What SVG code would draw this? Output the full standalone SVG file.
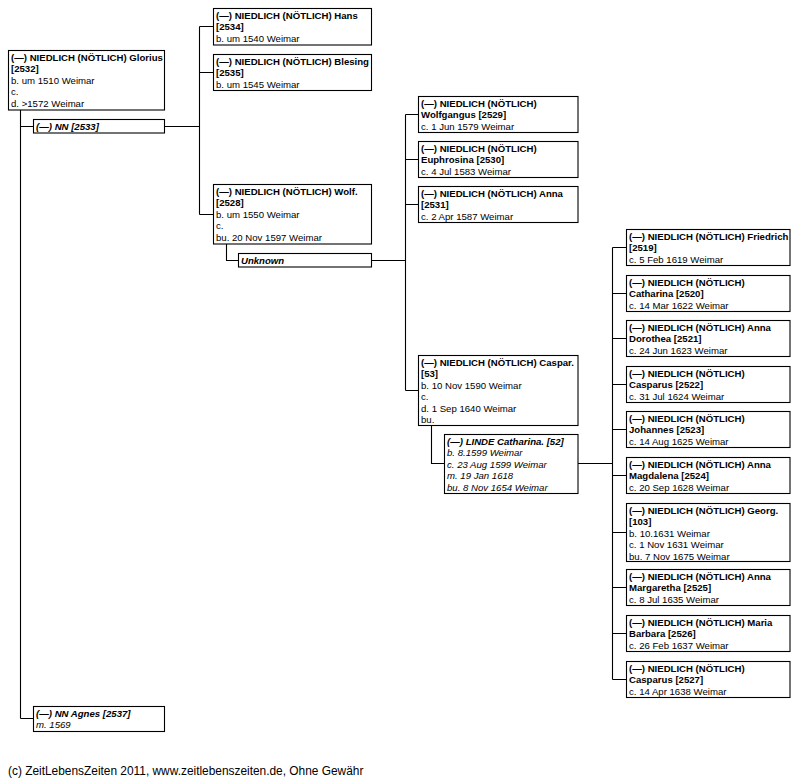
<svg xmlns="http://www.w3.org/2000/svg" width="801" height="782" viewBox="0 0 801 782">
<style>
text{font-family:"Liberation Sans",Arial,sans-serif;font-size:9.6px;fill:#000}
.b{font-weight:bold}
.i{font-style:italic}
.bi{font-weight:bold;font-style:italic}
rect{fill:#fff;stroke:#000;stroke-width:1.1}
.c{fill:none;stroke:#000;stroke-width:1.1}
.ft{font-size:11.9px}
</style>
<rect x="0" y="0" width="801" height="782" style="stroke:none;fill:#fff"/>
<g id="connectors">
<path class="c" d="M20.5 110V718.5M20.5 126.5H33M20.5 718.5H33M164 126.5H199.5M199.5 26.5V214.5M199.5 26.5H213M199.5 72.5H213M199.5 214.5H213M226.5 244V260.5H238M371 260.5H405.5M405.5 114.5V390.5M405.5 114.5H418M405.5 159.5H418M405.5 204.5H418M405.5 390.5H418M431.5 425V463.5H444M578 463.5H612.5M612.5 247.5V679.5M612.5 247.5H626M612.5 293.5H626M612.5 338.5H626M612.5 384.5H626M612.5 429.5H626M612.5 475.5H626M612.5 532.5H626M612.5 587.5H626M612.5 633.5H626M612.5 679.5H626"/>
</g>
<g id="n2532"><rect x="8.5" y="50.5" width="156" height="59.5"/>
<text x="11" y="61" class="b">(—) NIEDLICH (NÖTLICH) Glorius</text>
<text x="11" y="72.4" class="b">[2532]</text>
<text x="11" y="83.8">b. um 1510 Weimar</text>
<text x="11" y="95.2">c.</text>
<text x="11" y="106.6">d. &gt;1572 Weimar</text></g>
<g id="n2533"><rect x="33.5" y="119.5" width="131" height="13.5"/>
<text x="36" y="130" class="bi">(—) NN [2533]</text></g>
<g id="n2534"><rect x="213.5" y="8.5" width="158" height="36.5"/>
<text x="216" y="19" class="b">(—) NIEDLICH (NÖTLICH) Hans</text>
<text x="216" y="30.4" class="b">[2534]</text>
<text x="216" y="41.8">b. um 1540 Weimar</text></g>
<g id="n2535"><rect x="213.5" y="54.5" width="158" height="36"/>
<text x="216" y="65" class="b">(—) NIEDLICH (NÖTLICH) Blesing</text>
<text x="216" y="76.4" class="b">[2535]</text>
<text x="216" y="87.8">b. um 1545 Weimar</text></g>
<g id="n2528"><rect x="213.5" y="184.5" width="158" height="59.5"/>
<text x="216" y="195" class="b">(—) NIEDLICH (NÖTLICH) Wolf.</text>
<text x="216" y="206.4" class="b">[2528]</text>
<text x="216" y="217.8">b. um 1550 Weimar</text>
<text x="216" y="229.2">c.</text>
<text x="216" y="240.6">bu. 20 Nov 1597 Weimar</text></g>
<g id="unknown"><rect x="238.5" y="253.5" width="133" height="13.5"/>
<text x="241" y="264" class="bi">Unknown</text></g>
<g id="n2529"><rect x="418.5" y="96.5" width="159.5" height="36"/>
<text x="421" y="107" class="b">(—) NIEDLICH (NÖTLICH)</text>
<text x="421" y="118.4" class="b">Wolfgangus [2529]</text>
<text x="421" y="129.8">c. 1 Jun 1579 Weimar</text></g>
<g id="n2530"><rect x="418.5" y="141.5" width="159.5" height="36"/>
<text x="421" y="152" class="b">(—) NIEDLICH (NÖTLICH)</text>
<text x="421" y="163.4" class="b">Euphrosina [2530]</text>
<text x="421" y="174.8">c. 4 Jul 1583 Weimar</text></g>
<g id="n2531"><rect x="418.5" y="186.5" width="159.5" height="36"/>
<text x="421" y="197" class="b">(—) NIEDLICH (NÖTLICH) Anna</text>
<text x="421" y="208.4" class="b">[2531]</text>
<text x="421" y="219.8">c. 2 Apr 1587 Weimar</text></g>
<g id="n53"><rect x="418.5" y="355.5" width="159.5" height="70"/>
<text x="421" y="366" class="b">(—) NIEDLICH (NÖTLICH) Caspar.</text>
<text x="421" y="377.4" class="b">[53]</text>
<text x="421" y="388.8">b. 10 Nov 1590 Weimar</text>
<text x="421" y="400.2">c.</text>
<text x="421" y="411.6">d. 1 Sep 1640 Weimar</text>
<text x="421" y="423">bu.</text></g>
<g id="n52"><rect x="444.5" y="434.5" width="133.5" height="59"/>
<text x="447" y="445" class="bi">(—) LINDE Catharina. [52]</text>
<text x="447" y="456.4" class="i">b. 8.1599 Weimar</text>
<text x="447" y="467.8" class="i">c. 23 Aug 1599 Weimar</text>
<text x="447" y="479.2" class="i">m. 19 Jan 1618</text>
<text x="447" y="490.6" class="i">bu. 8 Nov 1654 Weimar</text></g>
<g id="n2519"><rect x="626.5" y="229.5" width="163.5" height="36"/>
<text x="629" y="240" class="b">(—) NIEDLICH (NÖTLICH) Friedrich</text>
<text x="629" y="251.4" class="b">[2519]</text>
<text x="629" y="262.8">c. 5 Feb 1619 Weimar</text></g>
<g id="n2520"><rect x="626.5" y="275.5" width="163.5" height="36"/>
<text x="629" y="286" class="b">(—) NIEDLICH (NÖTLICH)</text>
<text x="629" y="297.4" class="b">Catharina [2520]</text>
<text x="629" y="308.8">c. 14 Mar 1622 Weimar</text></g>
<g id="n2521"><rect x="626.5" y="320.5" width="163.5" height="36"/>
<text x="629" y="331" class="b">(—) NIEDLICH (NÖTLICH) Anna</text>
<text x="629" y="342.4" class="b">Dorothea [2521]</text>
<text x="629" y="353.8">c. 24 Jun 1623 Weimar</text></g>
<g id="n2522"><rect x="626.5" y="366.5" width="163.5" height="36"/>
<text x="629" y="377" class="b">(—) NIEDLICH (NÖTLICH)</text>
<text x="629" y="388.4" class="b">Casparus [2522]</text>
<text x="629" y="399.8">c. 31 Jul 1624 Weimar</text></g>
<g id="n2523"><rect x="626.5" y="411.5" width="163.5" height="36"/>
<text x="629" y="422" class="b">(—) NIEDLICH (NÖTLICH)</text>
<text x="629" y="433.4" class="b">Johannes [2523]</text>
<text x="629" y="444.8">c. 14 Aug 1625 Weimar</text></g>
<g id="n2524"><rect x="626.5" y="457.5" width="163.5" height="36"/>
<text x="629" y="468" class="b">(—) NIEDLICH (NÖTLICH) Anna</text>
<text x="629" y="479.4" class="b">Magdalena [2524]</text>
<text x="629" y="490.8">c. 20 Sep 1628 Weimar</text></g>
<g id="n103"><rect x="626.5" y="503.5" width="163.5" height="58"/>
<text x="629" y="514" class="b">(—) NIEDLICH (NÖTLICH) Georg.</text>
<text x="629" y="525.4" class="b">[103]</text>
<text x="629" y="536.8">b. 10.1631 Weimar</text>
<text x="629" y="548.2">c. 1 Nov 1631 Weimar</text>
<text x="629" y="559.6">bu. 7 Nov 1675 Weimar</text></g>
<g id="n2525"><rect x="626.5" y="569.5" width="163.5" height="36"/>
<text x="629" y="580" class="b">(—) NIEDLICH (NÖTLICH) Anna</text>
<text x="629" y="591.4" class="b">Margaretha [2525]</text>
<text x="629" y="602.8">c. 8 Jul 1635 Weimar</text></g>
<g id="n2526"><rect x="626.5" y="615.5" width="163.5" height="36"/>
<text x="629" y="626" class="b">(—) NIEDLICH (NÖTLICH) Maria</text>
<text x="629" y="637.4" class="b">Barbara [2526]</text>
<text x="629" y="648.8">c. 26 Feb 1637 Weimar</text></g>
<g id="n2527"><rect x="626.5" y="661.5" width="163.5" height="36"/>
<text x="629" y="672" class="b">(—) NIEDLICH (NÖTLICH)</text>
<text x="629" y="683.4" class="b">Casparus [2527]</text>
<text x="629" y="694.8">c. 14 Apr 1638 Weimar</text></g>
<g id="n2537"><rect x="33.5" y="706.5" width="131" height="25"/>
<text x="36" y="717" class="bi">(—) NN Agnes [2537]</text>
<text x="36" y="728.4" class="i">m. 1569</text></g>
<text x="8" y="775" class="ft">(c) ZeitLebensZeiten 2011, www.zeitlebenszeiten.de, Ohne Gewähr</text>
</svg>
